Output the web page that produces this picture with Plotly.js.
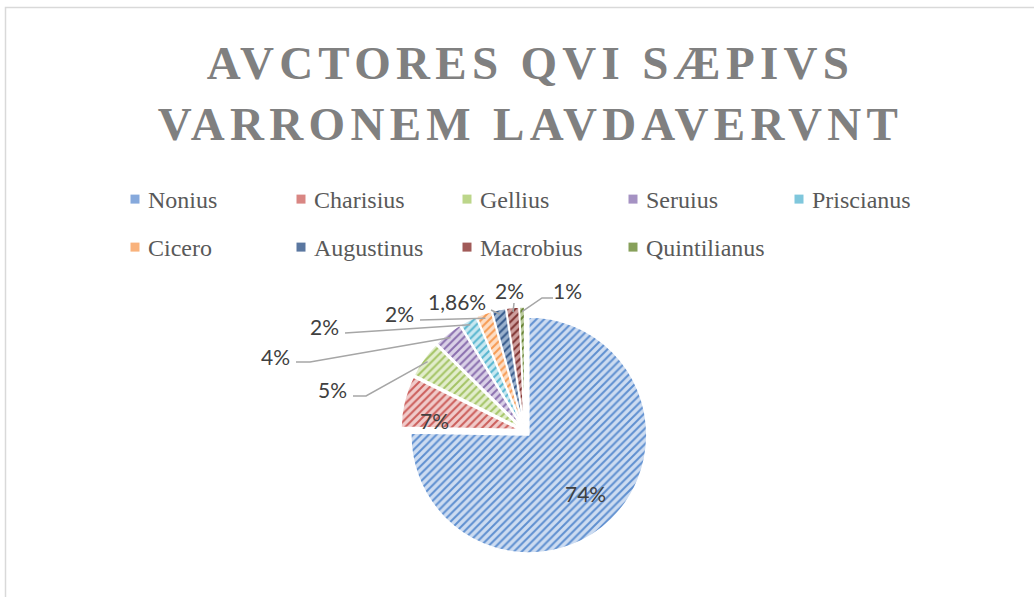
<!DOCTYPE html>
<html><head><meta charset="utf-8">
<script src="https://cdn.plot.ly/plotly-3.0.1.min.js"></script>
<style>html,body{margin:0;padding:0;background:#fff}#chart{width:1034px;height:597px}</style>
</head><body><div id="chart"></div>
<script>
// ---- data ----
const categories = ["Nonius","Charisius","Gellius","Seruius","Priscianus","Cicero","Augustinus","Macrobius","Quintilianus"];
const shares = [74.8, 7.0, 5.0, 3.9, 2.3, 2.1, 1.86, 1.7, 0.7];
const shareLabels = ["74%","7%","5%","4%","2%","2%","1,86%","2%","1%"];
const titleText = "AVCTORES QVI SÆPIVS<br>VARRONEM LAVDAVERVNT";

// ---- styles ----
const stripeColors = ["#5e8fd0","#cc5e5b","#a4c465","#8a6fae","#56b5cf","#f79a52","#34588a","#7e3230","#64802f"];
const fillColors   = ["#cddcf1","#f0cbca","#e2edcc","#dad1e7","#c9e8f1","#fdddc4","#9ab1cd","#ce9f9d","#bacb9c"];
const legendSwatch = ["#86a9dc","#d98683","#bcd68a","#a592c3","#7fc7dc","#f9b27c","#5a77a0","#a15a58","#87a05a"];

// ---- layout geometry (pixels) ----
const W = 1034, H = 597;
const pieCx = 524.7, pieCy = 430.8, pieR = 118, pullFrac = 0.05;
const legendLeft = 108, legendTop = 177, legendCols = 5, legendColW = 166, legendRowH = 48;
const labelPlacement = [
  {inside: 0.69},
  {at: [434, 420]},
  {at: [332, 389], path: [[353, 396], [366, 396]]},
  {at: [275, 356], path: [[296, 362], [310, 362]]},
  {at: [324, 326], path: [[345, 333]]},
  {at: [399, 313], path: [[420, 320]]},
  {at: [457, 301], path: [[491, 310]]},
  {at: [509, 290], path: [[514, 303]]},
  {at: [567, 290], path: [[553, 298], [542, 298]]}
];

const px = x => x / W, py = y => 1 - y / H;
const half = pieR * (1 + pullFrac);

// slice geometry derived from the values (clockwise from 12 o'clock, like the trace)
const total = shares.reduce((a, b) => a + b, 0);
let cum = 0;
const mids = shares.map(v => { const m = (cum + v / 2) / total * 2 * Math.PI; cum += v; return m; });

const annotations = [];
const shapes = [{
  type: 'rect', xref: 'paper', yref: 'paper',
  x0: px(5.5), y0: py(7.5), x1: 1.05, y1: -0.05,
  line: {color: '#d9d9d9', width: 1.5}, fillcolor: 'rgba(0,0,0,0)', layer: 'below'
}];
mids.forEach((m, i) => {
  const s = Math.sin(m), c = -Math.cos(m);
  const ccx = pieCx + pullFrac * pieR * s, ccy = pieCy + pullFrac * pieR * c;
  const p = labelPlacement[i];
  const font = {family: 'Lato, "Liberation Sans", sans-serif', size: 21, color: '#404040'};
  if (p.inside !== undefined) {
    annotations.push({x: px(ccx + p.inside * pieR * s), y: py(ccy + p.inside * pieR * c),
      xref: 'paper', yref: 'paper', text: shareLabels[i], showarrow: false,
      xanchor: 'center', yanchor: 'middle', font});
  } else {
    annotations.push({x: px(p.at[0]), y: py(p.at[1]), xref: 'paper', yref: 'paper',
      text: shareLabels[i], showarrow: false, xanchor: 'center', yanchor: 'middle', font});
    if (p.path) {
      const ax = ccx + pieR * 0.96 * s, ay = ccy + pieR * 0.96 * c;
      const pts = p.path.concat([[ax, ay]]);
      const d = pts.map((q, k) => (k ? 'L' : 'M') + px(q[0]).toFixed(5) + ',' + py(q[1]).toFixed(5)).join(' ');
      shapes.push({type: 'path', xref: 'paper', yref: 'paper', path: d,
        line: {color: '#a6a6a6', width: 1.5}, layer: 'above'});
    }
  }
});

const trace = {
  type: 'pie',
  labels: categories,
  values: shares,
  sort: false,
  direction: 'clockwise',
  rotation: 0,
  pull: shares.map(() => pullFrac),
  textinfo: 'none',
  hoverinfo: 'label+percent',
  automargin: false,
  domain: {x: [px(pieCx - half), px(pieCx + half)], y: [py(pieCy + half), py(pieCy - half)]},
  marker: {
    colors: fillColors,
    line: {color: '#ffffff', width: 1.5},
    pattern: {shape: '/', fgcolor: stripeColors, bgcolor: fillColors, size: 5.5, solidity: 0.36, fillmode: 'replace'}
  }
};

const layout = {
  width: W, height: H,
  margin: {l: 0, r: 0, t: 0, b: 0},
  paper_bgcolor: '#ffffff',
  title: {
    text: titleText,
    x: 0.513, xref: 'container', xanchor: 'center',
    y: 0.868, yref: 'container', yanchor: 'top',
    font: {family: '"Liberation Serif", serif', size: 47, color: '#808080', weight: 'bold'}
  },
  showlegend: true,
  legend: {
    orientation: 'h', x: 0, y: py(legendTop), xanchor: 'left', yanchor: 'top',
    entrywidth: 90, entrywidthmode: 'pixels',
    font: {family: '"Liberation Serif", serif', size: 24, color: '#595959'},
    bgcolor: 'rgba(0,0,0,0)', traceorder: 'normal'
  },
  annotations, shapes
};

Plotly.newPlot('chart', [trace], layout, {displayModeBar: false, staticPlot: true}).then(gd => {
  const t = gd.querySelector('.gtitle');
  if (t) t.style.letterSpacing = '5.3px';
  // lay the legend entries out as the reference's 5-column grid
  const lg = gd.querySelector('.legend');
  if (!lg) return;
  lg.setAttribute('transform', 'translate(' + legendLeft + ',' + legendTop + ')');
  lg.querySelectorAll('[clip-path]').forEach(el => el.removeAttribute('clip-path'));
  const items = Array.from(lg.querySelectorAll('.traces'));
  const m0 = /translate\(([-\d.]+)[ ,]+([-\d.]+)\)/.exec(items[0].getAttribute('transform') || '');
  const y0 = m0 ? +m0[2] : 22;
  items.forEach((tr, k) => {
    const col = k % legendCols, row = Math.floor(k / legendCols);
    tr.setAttribute('transform', 'translate(' + (col * legendColW) + ',' + (y0 + row * legendRowH) + ')');
  });
  lg.querySelectorAll('path.legendpie').forEach((p, k) => {
    p.setAttribute('d', 'M4.5,4.5H-4.5V-4.5H4.5Z');
    p.setAttribute('transform', 'translate(27,0)');
    p.style.fill = legendSwatch[k % legendSwatch.length];
    p.style.stroke = 'none';
  });
});
</script>
</body></html>
